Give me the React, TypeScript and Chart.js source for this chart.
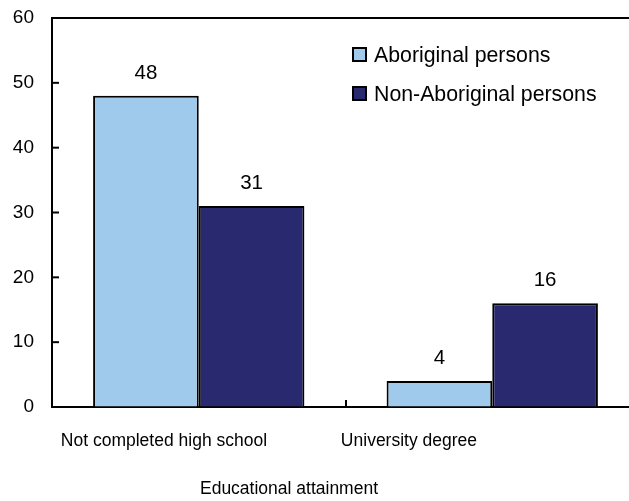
import React, { useEffect, useRef } from 'react';
import { Chart, registerables } from 'chart.js';

Chart.register(...registerables);

// ---- data ----
const categories = ['Not completed high school', 'University degree'];
const seriesNames = ['Aboriginal persons', 'Non-Aboriginal persons'];
const aboriginal = [48, 4];
const nonAboriginal = [31, 16];
const yTickValues = [0, 10, 20, 30, 40, 50, 60];
const xTitle = 'Educational attainment';

// ---- style / layout ----
const FONT = "'Liberation Sans', Arial, Helvetica, sans-serif";
const LIGHT = '#A0CAEB';
const DARK = '#29296F';
const CW = 700;
const CH = 501;
const SHIFT = 61;
const LABEL_AXIS_MIN = -0.457;
const LABEL_AXIS_MAX = 1.939;
const AXIS_FONT = 17.5;
const Y_FONT = 19;
const DATA_FONT = 20.5;
const LEGEND_FONT = 21.3;

const decorPlugin = {
  id: 'decor',
  afterDatasetsDraw(chart: any) {
    const { ctx, chartArea: a, scales } = chart;
    ctx.save();
    ctx.strokeStyle = '#000';
    ctx.lineWidth = 2;
    // top frame line
    ctx.beginPath();
    ctx.moveTo(a.left - 1, a.top);
    ctx.lineTo(a.right, a.top);
    ctx.stroke();
    // inward y ticks
    const y = scales.y;
    y.ticks.forEach((t: any) => {
      if (t.value === yTickValues[0] || t.value === yTickValues[yTickValues.length - 1]) return;
      const py = y.getPixelForValue(t.value);
      ctx.beginPath();
      ctx.moveTo(a.left, py);
      ctx.lineTo(a.left + 7, py);
      ctx.stroke();
    });
    // inward x category boundary ticks
    const x = scales.x;
    for (let i = 0; i < categories.length - 1; i++) {
      const px = Math.round((x.getPixelForTick(i) + x.getPixelForTick(i + 1)) / 2);
      ctx.beginPath();
      ctx.moveTo(px, a.bottom);
      ctx.lineTo(px, a.bottom - 7);
      ctx.stroke();
    }
    // data labels
    ctx.fillStyle = '#000';
    ctx.font = `${DATA_FONT}px ${FONT}`;
    ctx.textAlign = 'center';
    ctx.textBaseline = 'alphabetic';
    chart.data.datasets.forEach((ds: any, i: number) => {
      const meta = chart.getDatasetMeta(i);
      meta.data.forEach((el: any, j: number) => {
        ctx.fillText(String(ds.data[j]), el.x, el.y - 17);
      });
    });
    // legend
    const lx = a.left + 300;
    const ly = a.top + 29;
    ctx.font = `${LEGEND_FONT}px ${FONT}`;
    chart.data.datasets.forEach((ds: any, i: number) => {
      const top = ly + i * 39;
      ctx.fillStyle = ds.backgroundColor;
      ctx.fillRect(lx, top, 15, 15);
      ctx.lineWidth = 2;
      ctx.strokeStyle = '#000';
      ctx.strokeRect(lx + 1, top + 1, 13, 13);
      ctx.fillStyle = '#000';
      ctx.textAlign = 'left';
      ctx.fillText(ds.label, lx + 22, top + 14.7);
    });
    ctx.restore();
  },
};

export default function App() {
  const ref = useRef<HTMLCanvasElement | null>(null);

  useEffect(() => {
    if (!ref.current) return;
    Chart.defaults.font.family = FONT;
    Chart.defaults.color = '#000';
    const chart = new Chart(ref.current, {
      type: 'bar',
      data: {
        labels: categories,
        datasets: [
          {
            label: seriesNames[0],
            data: aboriginal,
            backgroundColor: LIGHT,
            borderColor: '#000',
            borderWidth: 2,
            barPercentage: 1,
            categoryPercentage: 0.72,
          },
          {
            label: seriesNames[1],
            data: nonAboriginal,
            backgroundColor: DARK,
            borderColor: '#000',
            borderWidth: 2,
            barPercentage: 1,
            categoryPercentage: 0.72,
          },
        ],
      },
      options: {
        responsive: false,
        animation: false,
        layout: { padding: { top: 18, left: 0, right: 0, bottom: 0 } },
        plugins: {
          legend: { display: false },
          tooltip: { enabled: false },
          title: {
            display: true,
            text: xTitle,
            position: 'bottom',
            color: '#000',
            fullSize: true,
            font: { size: AXIS_FONT, weight: 'normal', family: FONT, lineHeight: 1.2 },
            padding: { top: 21.5, bottom: 1.5 },
          },
        },
        scales: {
          x: {
            type: 'category',
            offset: true,
            weight: 0,
            grid: { display: true, drawOnChartArea: false, drawTicks: false },
            border: { display: true, color: '#000', width: 2 },
            ticks: { display: false },
            afterFit: (s: any) => {
              s.height = 0;
              s.paddingLeft = 0;
              s.paddingRight = 0;
            },
          },
          xl: {
            type: 'linear',
            position: 'bottom',
            weight: 1,
            offset: false,
            bounds: 'data',
            min: LABEL_AXIS_MIN,
            max: LABEL_AXIS_MAX,
            afterBuildTicks: (s: any) => {
              s.ticks = categories.map((_, i) => ({ value: i }));
            },
            ticks: {
              callback: (v: any) => categories[v] ?? '',
              padding: 16,
              maxRotation: 0,
              minRotation: 0,
              autoSkip: false,
              color: '#000',
              font: { size: AXIS_FONT, lineHeight: 1.2 },
            },
            grid: { display: false, offset: false },
            border: { display: false },
            afterFit: (s: any) => {
              s.height = 50;
              s.paddingLeft = 0;
              s.paddingRight = 0;
            },
          },
          y: {
            min: yTickValues[0],
            max: yTickValues[yTickValues.length - 1],
            ticks: { stepSize: 10, padding: 18, color: '#000', font: { size: Y_FONT } },
            grid: { display: true, drawOnChartArea: false, drawTicks: false },
            border: { display: true, color: '#000', width: 2 },
            afterFit: (s: any) => {
              s.width = 113;
              s.paddingTop = 0;
              s.paddingBottom = 0;
            },
          },
        },
      } as any,
      plugins: [decorPlugin],
    });
    return () => chart.destroy();
  }, []);

  return (
    <div
      style={{
        position: 'absolute',
        left: 0,
        top: 0,
        width: 629,
        height: 501,
        overflow: 'hidden',
        background: '#fff',
      }}
    >
      <canvas
        ref={ref}
        width={CW}
        height={CH}
        style={{ position: 'absolute', left: -SHIFT, top: 0, width: CW, height: CH }}
      />
    </div>
  );
}
